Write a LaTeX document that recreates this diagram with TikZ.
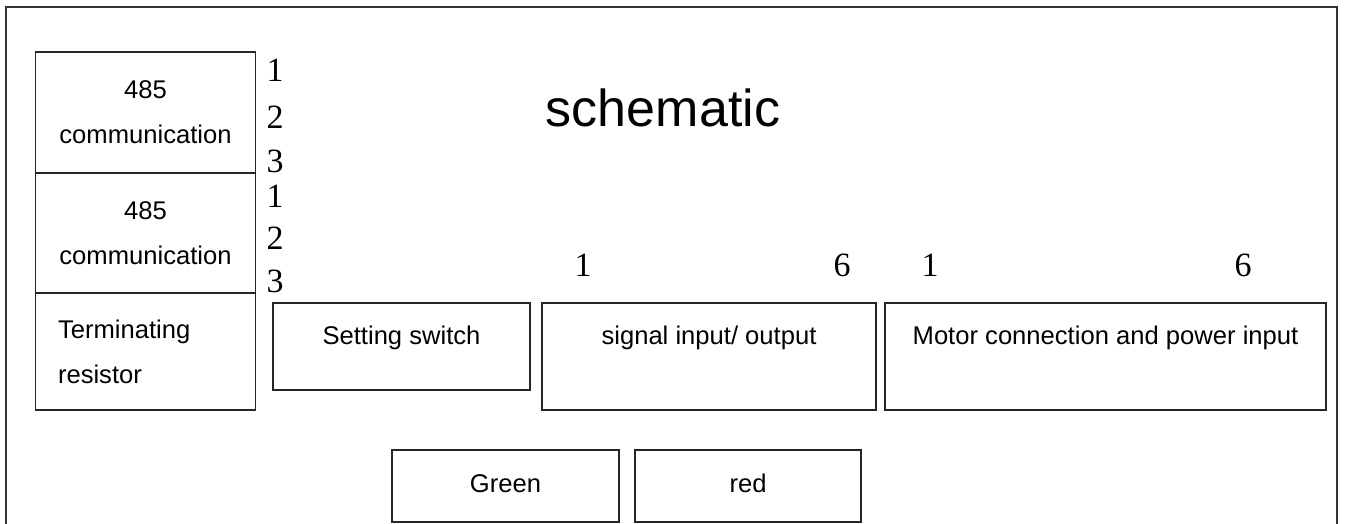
\documentclass[tikz,border=0pt]{standalone}
\usepackage{fontspec}
\setmainfont{Liberation Sans}
\newfontfamily\numfont{Liberation Serif}
\usepackage{tikz}
\usetikzlibrary{positioning}
\tikzset{box/.style={draw=black!85, line width=1.6pt, inner sep=0pt, outer sep=0pt},
	lbl/.style={font=\fontsize{25.6}{45}\selectfont, inner sep=0pt, align=center},
	oneline/.style={text height=18.4, text depth=5.4},
	pin/.style={font=\numfont\fontsize{34}{34}\selectfont, inner sep=0pt},}

\begin{document}
\begin{tikzpicture}[x=1pt,y=-1pt]
	\useasboundingbox (0,0) rectangle (1347,524);
	% outer frame, open at the bottom
	\coordinate (FL) at (6,530);
	\coordinate (FTL) at (6,7);
	\coordinate (FTR) at (1337,7);
	\coordinate (FR) at (1337,530);
	\draw[draw=black!80, line width=2pt] (FL)--(FTL)--(FTR)--(FR);
	
	\node[lbl, font=\fontsize{52}{52}\selectfont] (title) at (663,108) {schematic};
	
	% left column
	\node[box, lbl, minimum width=220, minimum height=120.5] (com1) at (145.5,112.5) {485\\communication};
	\node[box, lbl, minimum width=220, minimum height=121] (com2) at (145.5,233) {485\\communication};
	\node[box, lbl, minimum width=220, minimum height=117, text width=175, align=left] (term) at (145.5,351.5) {Terminating\\resistor};
	\foreach \n/\y in {1/70.5,2/117,3/161}
		\node[pin] (pa\n) at (275,\y) {\n};
	\foreach \n/\y in {1/196,2/238,3/281}
		\node[pin] (pb\n) at (275,\y) {\n};
	
	% connectors row
	\node[box, minimum width=257, minimum height=87] (switch) at (401.5,346.5) {};
	\node[lbl, oneline] (switchtxt) at ([yshift=-35pt]switch.north) {Setting switch};
	\node[box, minimum width=334, minimum height=107] (signal) at (709,356.5) {};
	\node[lbl, oneline] (signaltxt) at ([yshift=-35pt]signal.north) {signal input/ output};
	\node[box, minimum width=441, minimum height=107] (motor) at (1105.5,356.5) {};
	\node[lbl, oneline] (motortxt) at ([yshift=-35pt]motor.north) {Motor connection and power input};
	\node[pin] (sig1) at (583,265) {1};
	\node[pin] (sig6) at (842,265) {6};
	\node[pin] (mot1) at (930,265) {1};
	\node[pin] (mot6) at (1243,265) {6};
	
	% leds
	\node[box, lbl, oneline, minimum width=227, minimum height=72] (green) at (505.5,486) {Green};
	\node[box, lbl, oneline, minimum width=226, minimum height=72] (red) at (748,486) {red};
\end{tikzpicture}
\end{document}
